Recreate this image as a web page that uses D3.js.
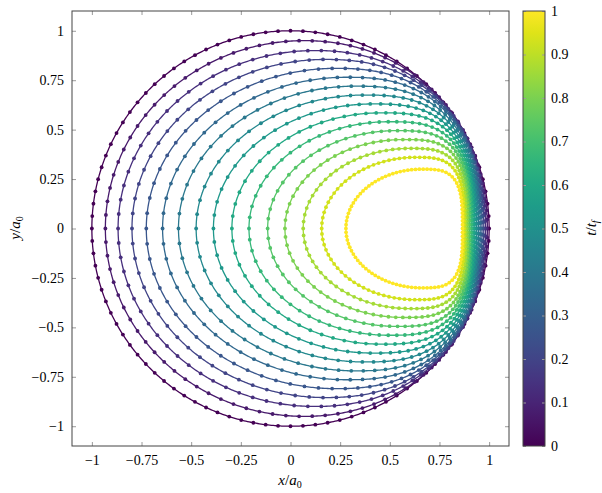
<!DOCTYPE html>
<html><head><meta charset="utf-8">
<script src="https://cdn.jsdelivr.net/npm/d3@7"></script>
<style>body{margin:0;background:#fff} text{font-family:"Liberation Serif","Times New Roman",Times,serif}</style>
</head><body><svg id="c" width="602" height="493" font-family='"Liberation Serif","Times New Roman",serif'></svg>
<script>
// one closed curve per time value t/t_f
const tValues  = [0, 0.067, 0.133, 0.2, 0.267, 0.333, 0.4, 0.467, 0.533, 0.6, 0.667, 0.733, 0.8, 0.867, 0.933, 1];
// left-most x on y=0 (read)
const leftX    = [-1.000, -0.932, -0.868, -0.798, -0.726, -0.644, -0.564, -0.475, -0.388, -0.295, -0.209, -0.115, -0.028, 0.064, 0.157, 0.279];
// right-most x on y=0 (read)
const rightX   = [1.000, 0.991, 0.982, 0.973, 0.964, 0.955, 0.946, 0.937, 0.928, 0.919, 0.910, 0.901, 0.892, 0.883, 0.874, 0.866];
// highest point of each curve (read)
const topX     = [0.000, 0.068, 0.122, 0.176, 0.229, 0.283, 0.327, 0.372, 0.415, 0.458, 0.496, 0.535, 0.570, 0.600, 0.630, 0.660];
const topY     = [1.00, 0.95, 0.90, 0.855, 0.81, 0.765, 0.72, 0.675, 0.63, 0.585, 0.54, 0.495, 0.45, 0.405, 0.36, 0.30];
// squareness of the right-hand side (2 = circular)
const rightSquare = [2.0, 2.1, 2.2, 2.3, 2.4, 2.5, 2.6, 2.7, 2.8, 2.9, 3.0, 3.1, 3.2, 3.3, 3.35, 3.4];
const markersPerCurve = 100;

const xTicks = [-1, -0.75, -0.5, -0.25, 0, 0.25, 0.5, 0.75, 1];
const yTicks = [-1, -0.75, -0.5, -0.25, 0, 0.25, 0.5, 0.75, 1];
const cbTicks = [0, 0.1, 0.2, 0.3, 0.4, 0.5, 0.6, 0.7, 0.8, 0.9, 1];

const FONT = '"Liberation Serif","Times New Roman",serif';
const svg = d3.select("#c");
const x = d3.scaleLinear().domain([-1.1, 1.1]).range([72, 509]);
const y = d3.scaleLinear().domain([-1.1, 1.1]).range([446, 11]);
const cb = d3.scaleLinear().domain([0, 1]).range([446, 11]);
const color = d3.scaleSequential(d3.interpolateViridis).domain([0, 1]);
const fmt = d3.format("");

function outline(i) {
  const X = topX[i], H = topY[i];
  const aL = X - leftX[i], aR = rightX[i] - X, m = rightSquare[i];
  const upper = [];
  const n = 360;
  for (let k = 0; k <= n; k++) {
    const psi = Math.PI * (1 - k / n);
    const c = Math.cos(psi), s = Math.max(0, Math.sin(psi));
    if (c < 0) upper.push([X - aL * (-c), H * s]);
    else upper.push([X + aR * Math.pow(c, 2 / m), H * Math.pow(s, 2 / m)]);
  }
  const lower = upper.slice(1, -1).reverse().map(d => [d[0], -d[1]]);
  return upper.concat(lower);
}

const line = d3.line().x(d => x(d[0])).y(d => y(d[1])).curve(d3.curveLinearClosed);
const plot = svg.append("g");

tValues.forEach((t, i) => {
  const pts = outline(i);
  const c = color(t);
  plot.append("path").attr("d", line(pts)).attr("fill", "none")
    .attr("stroke", c).attr("stroke-width", 1.3);
  // markers along the curve, somewhat denser towards the right-hand side
  const L = leftX[i], R = rightX[i];
  const boost = 8 * t * (1 - t);
  const px = pts.map(d => [x(d[0]), y(d[1]), Math.pow((d[0] - L) / (R - L), 4)]);
  px.push(px[0]);
  const cum = [0];
  for (let k = 1; k < px.length; k++) {
    const w = 1 + boost * (px[k][2] + px[k - 1][2]) / 2;
    cum.push(cum[k - 1] + w * Math.hypot(px[k][0] - px[k - 1][0], px[k][1] - px[k - 1][1]));
  }
  const total = cum[cum.length - 1];
  const marks = [];
  let j = 1;
  for (let mk = 0; mk < markersPerCurve; mk++) {
    const target = total * mk / markersPerCurve;
    while (cum[j] < target) j++;
    const a = (target - cum[j - 1]) / (cum[j] - cum[j - 1] || 1);
    marks.push([px[j - 1][0] + a * (px[j][0] - px[j - 1][0]), px[j - 1][1] + a * (px[j][1] - px[j - 1][1])]);
  }
  plot.selectAll(null).data(marks).enter().append("circle")
    .attr("cx", d => d[0]).attr("cy", d => d[1]).attr("r", 1.9).attr("fill", c);
});

// axes frame and ticks
const tickCol = "#9a9a9a";
function styleAxis(g) {
  g.attr("font-family", FONT);
  g.select(".domain").remove();
  g.selectAll(".tick line").attr("stroke", tickCol);
  g.selectAll("text").attr("font-size", 14).attr("fill", "#000").attr("font-family", FONT);
}
svg.append("g").attr("transform", "translate(0,446)")
  .call(d3.axisBottom(x).tickValues(xTicks).tickSize(-4).tickPadding(9).tickFormat(fmt)).call(styleAxis);
svg.append("g").attr("transform", "translate(0,11)")
  .call(d3.axisTop(x).tickValues(xTicks).tickSize(-4).tickFormat("")).call(styleAxis);
svg.append("g").attr("transform", "translate(72,0)")
  .call(d3.axisLeft(y).tickValues(yTicks).tickSize(-4).tickPadding(8).tickFormat(fmt)).call(styleAxis);
svg.append("g").attr("transform", "translate(509,0)")
  .call(d3.axisRight(y).tickValues(yTicks).tickSize(-4).tickFormat("")).call(styleAxis);
svg.append("rect").attr("x", 72).attr("y", 11).attr("width", 437).attr("height", 435)
  .attr("fill", "none").attr("stroke", "#444").attr("stroke-width", 1);

// axis labels
function fracLabel(g, a, b, sub, subItalic) {
  g.append("tspan").attr("font-style", "italic").text(a);
  g.append("tspan").text("/");
  g.append("tspan").attr("font-style", "italic").text(b);
  g.append("tspan").attr("font-size", 10).attr("dy", 3).attr("font-style", subItalic ? "italic" : "normal").text(sub);
}
fracLabel(svg.append("text").attr("x", 290).attr("y", 485).attr("text-anchor", "middle").attr("font-size", 15).attr("font-family", FONT), "x", "a", "0", false);
fracLabel(svg.append("text").attr("transform", "translate(20,228) rotate(-90)").attr("text-anchor", "middle").attr("font-size", 15).attr("font-family", FONT), "y", "a", "0", false);

// colorbar
const defs = svg.append("defs");
const grad = defs.append("linearGradient").attr("id", "vir").attr("x1", 0).attr("y1", 1).attr("x2", 0).attr("y2", 0);
d3.range(0, 1.0001, 0.05).forEach(v => grad.append("stop").attr("offset", v).attr("stop-color", color(v)));
svg.append("rect").attr("x", 523).attr("y", 11).attr("width", 22).attr("height", 435).attr("fill", "url(#vir)");
svg.append("g").attr("transform", "translate(545,0)")
  .call(d3.axisRight(cb).tickValues(cbTicks).tickSize(-3).tickPadding(6).tickFormat(fmt)).call(styleAxis);
svg.append("g").attr("transform", "translate(523,0)")
  .call(d3.axisLeft(cb).tickValues(cbTicks).tickSize(-3).tickFormat("")).call(styleAxis);
svg.append("rect").attr("x", 523).attr("y", 11).attr("width", 22).attr("height", 435)
  .attr("fill", "none").attr("stroke", "#444").attr("stroke-width", 1);
fracLabel(svg.append("text").attr("transform", "translate(596,228) rotate(-90)").attr("text-anchor", "middle").attr("font-size", 15).attr("font-family", FONT), "t", "t", "f", true);
</script></body></html>
